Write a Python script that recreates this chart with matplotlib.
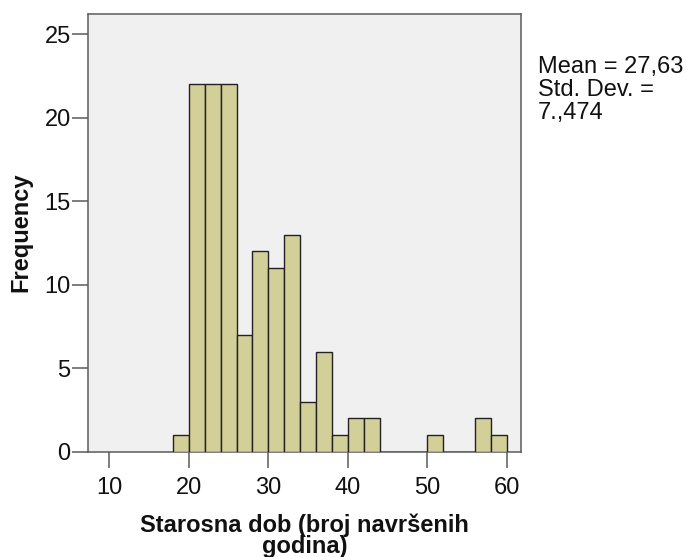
import matplotlib
matplotlib.use("Agg")
import matplotlib.pyplot as plt

# ── Data ─────────────────────────────────────────────────────────────────────

bin_lefts = [18, 20, 22, 24, 26, 28, 30, 32, 34, 36, 38, 40, 42, 44, 46, 48,
             50, 52, 54, 56, 58]
counts = [1, 22, 22, 22, 7, 12, 11, 13, 3, 6, 1, 2, 2, 0, 0, 0,
          1, 0, 0, 2, 1]
bin_width = 2

x_ticks = [10, 20, 30, 40, 50, 60]
y_ticks = [0, 5, 10, 15, 20, 25]

x_label = "Starosna dob (broj navršenih\ngodina)"
y_label = "Frequency"
stats_text = "Mean = 27,63\nStd. Dev. =\n7.,474"

# ── Style ────────────────────────────────────────────────────────────────────

plt.rcParams["font.family"] = ["Liberation Sans", "DejaVu Sans"]

BAR_COLOR = "#D3CF98"
BG_COLOR = "#F0F0F0"
EDGE = "#222222"
SPINE = "#5A5A5A"
TXT = "#111111"
FS = 17

fig = plt.figure(figsize=(6.89, 5.57), dpi=100)
ax = fig.add_axes([88 / 689, 1 - 451.7 / 557, (521 - 88) / 689, (451.7 - 13.5) / 557])
ax.set_facecolor(BG_COLOR)

ax.bar(bin_lefts, counts, width=bin_width, align="edge",
       color=BAR_COLOR, edgecolor=EDGE, linewidth=1.0, zorder=3)

ax.set_xlim(7.3, 61.8)
ax.set_ylim(0, 26.24)
ax.set_xticks(x_ticks)
ax.set_yticks(y_ticks)
ax.tick_params(direction="out", length=11.5, width=1.1, color=SPINE,
               labelsize=FS, labelcolor=TXT)
ax.tick_params(axis="x", pad=7)
ax.tick_params(axis="y", pad=1)

for spine in ax.spines.values():
    spine.set_edgecolor(SPINE)
    spine.set_linewidth(1.1)

ax.set_xlabel(x_label, fontsize=FS, fontweight="bold", labelpad=10.5,
              linespacing=0.87, color=TXT)
ax.set_ylabel(y_label, fontsize=FS, fontweight="bold", labelpad=8.5, color=TXT)

fig.text(538 / 689, 1 - 55.5 / 557, stats_text, fontsize=FS, va="top",
         ha="left", linespacing=1.08, color=TXT)

fig.savefig("out.png", dpi=100, facecolor="white")
